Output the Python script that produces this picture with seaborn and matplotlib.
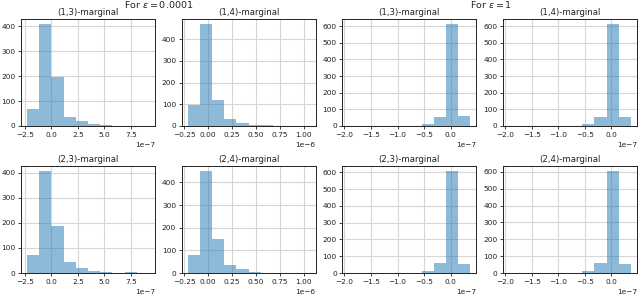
import numpy as np
import pandas as pd
import matplotlib
matplotlib.use("Agg")
import matplotlib.pyplot as plt
import seaborn as sns

# ---- data (bin edges and counts) ----
# eps = 0.0001, (i,3)-marginals, units of 1e-7
edges_small_3 = [-2.30, -1.15, 0.00, 1.15, 2.30, 3.45, 4.60, 5.75, 6.90, 8.05, 9.20]
scale_small_3 = 1e-7
counts_13_small = [68, 408, 198, 35, 18, 6, 4, 1, 1, 1]
counts_23_small = [70, 407, 188, 42, 20, 7, 4, 0, 3, 1]

# eps = 0.0001, (i,4)-marginals, units of 1e-6
edges_small_4 = [-0.215, -0.0875, 0.040, 0.1675, 0.295, 0.4225, 0.55, 0.6775, 0.805, 0.9325, 1.06]
scale_small_4 = 1e-6
counts_14_small = [97, 470, 122, 30, 15, 5, 3, 1, 1, 1]
counts_24_small = [80, 450, 150, 37, 18, 6, 2, 1, 1, 1]

# eps = 1, units of 1e-7
edges_big = [-1.925, -1.696, -1.467, -1.238, -1.009, -0.780, -0.551, -0.322, -0.093, 0.136, 0.365]
scale_big = 1e-7
counts_13_big = [1, 0, 0, 0, 0, 0, 12, 52, 612, 58]
counts_14_big = [1, 0, 0, 0, 0, 0, 10, 55, 612, 55]
counts_23_big = [1, 0, 0, 0, 0, 0, 12, 58, 608, 55]
counts_24_big = [1, 0, 0, 0, 0, 0, 12, 60, 605, 55]

titles = [["(1,3)-marginal", "(1,4)-marginal", "(1,3)-marginal", "(1,4)-marginal"],
          ["(2,3)-marginal", "(2,4)-marginal", "(2,3)-marginal", "(2,4)-marginal"]]
suptitle_left = "For $\\varepsilon = 0.0001$"
suptitle_right = "For $\\varepsilon = 1$"

panels = [
    [(edges_small_3, scale_small_3, counts_13_small),
     (edges_small_4, scale_small_4, counts_14_small),
     (edges_big, scale_big, counts_13_big),
     (edges_big, scale_big, counts_14_big)],
    [(edges_small_3, scale_small_3, counts_23_small),
     (edges_small_4, scale_small_4, counts_24_small),
     (edges_big, scale_big, counts_23_big),
     (edges_big, scale_big, counts_24_big)],
]

sns.set_theme(style="whitegrid", rc={
    "axes.edgecolor": "#222222", "axes.linewidth": 0.7,
    "grid.color": "#d6d6d6", "grid.linewidth": 0.8,
    "xtick.bottom": True, "ytick.left": True,
    "xtick.major.size": 2.5, "ytick.major.size": 2.5,
    "xtick.major.width": 0.6, "ytick.major.width": 0.6,
    "xtick.color": "#222222", "ytick.color": "#222222",
    "xtick.labelsize": 5.3, "ytick.labelsize": 5.3,
    "xtick.major.pad": 1.5, "ytick.major.pad": 1.5,
    "axes.titlesize": 6.2, "axes.titlepad": 3,
    "text.color": "#222222", "axes.labelcolor": "#222222",
})
plt.rcParams['font.family'] = ['DejaVu Sans']

fig, axes = plt.subplots(2, 4, figsize=(6.4, 2.94), dpi=100)
fig.subplots_adjust(left=21/640, right=637/640, top=1-19/294, bottom=1-273/294,
                    wspace=0.199, hspace=0.374)

for r in range(2):
    for c in range(4):
        ax = axes[r, c]
        edges, scale, counts = panels[r][c]
        e = [float(v) * scale for v in edges]
        centers = [(e[i] + e[i + 1]) / 2 for i in range(len(e) - 1)]
        df = pd.DataFrame({"value": centers, "count": [float(v) for v in counts]})
        sns.histplot(data=df, x="value", weights="count", bins=e, ax=ax,
                     color="#1f77b4", alpha=0.5, linewidth=0, edgecolor="none")
        ax.set_ylabel("")
        ax.set_xlabel("")
        ax.set_title(titles[r][c])
        ax.xaxis.get_offset_text().set_fontsize(5.3)
        for s in ax.spines.values():
            s.set_visible(True)

fig.text(158.5/640, 1-7.5/294, suptitle_left, ha="center", va="baseline", fontsize=6.8)
fig.text(491/640, 1-7.5/294, suptitle_right, ha="center", va="baseline", fontsize=6.8)

fig.savefig("out.png", dpi=100)
